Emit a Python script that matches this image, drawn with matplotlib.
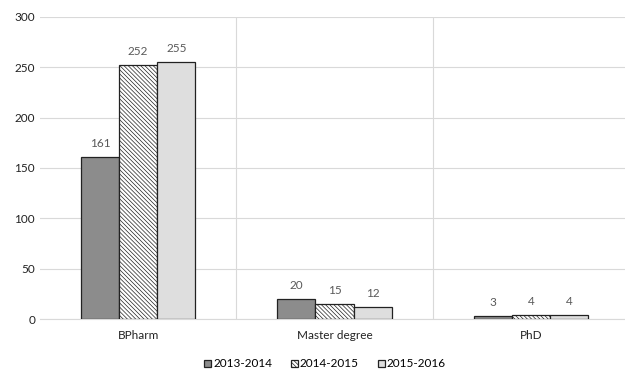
import numpy as np
import matplotlib
matplotlib.use("Agg")
from matplotlib import pyplot as plt

categories = ["BPharm", "Master degree", "PhD"]
years = ["2013-2014", "2014-2015", "2015-2016"]
v2013 = [161, 20, 3]
v2014 = [252, 15, 4]
v2015 = [255, 12, 4]

plt.rcParams['font.family'] = ['Lato', 'DejaVu Sans']
plt.rcParams['hatch.linewidth'] = 0.5
plt.rcParams['hatch.color'] = '#555555'

fig = plt.figure(figsize=(6.25, 3.69), dpi=100)
ax = fig.add_axes([0.064, 0.1355, 0.9424, 0.8185])

x = np.arange(len(categories))
w = 0.194
styles = [dict(color='#8c8c8c', hatch=None),
          dict(color='white', hatch='\\\\\\\\\\\\\\\\'),
          dict(color='#dedede', hatch=None)]
handles = []
for i, (vals, st) in enumerate(zip([v2013, v2014, v2015], styles)):
    bars = ax.bar(x + (i - 1) * w, vals, w, facecolor=st['color'], hatch=st['hatch'],
                  edgecolor='#222222', linewidth=0.9, zorder=3, label=years[i])
    handles.append(bars)
    for b, v in zip(bars, vals):
        ax.text(b.get_x() + b.get_width() / 2, v + 8, str(v), ha='center', va='bottom',
                fontsize=8.5, color='#595959')

ax.set_xlim(-0.5, 2.5)
ax.set_ylim(0, 300)
ax.set_yticks(range(0, 301, 50))
ax.set_xticks(x)
ax.set_xticklabels(categories)
ax.set_xticks([0.5, 1.5], minor=True)
ax.grid(axis='y', color='#d9d9d9', linewidth=0.8, zorder=0)
ax.grid(axis='x', which='minor', color='#d9d9d9', linewidth=0.8, zorder=0)
ax.tick_params(axis='both', which='both', length=0, labelsize=8.5, colors='#222222')
ax.tick_params(axis='x', pad=8)
for s in ['left', 'right', 'top']:
    ax.spines[s].set_visible(False)
ax.spines['bottom'].set_color('#d9d9d9')

fig.legend(handles=handles, loc='lower center', bbox_to_anchor=(0.52, -0.03), ncol=3,
           frameon=False, fontsize=8.5, handlelength=0.6, handleheight=0.6,
           handletextpad=0.15, columnspacing=1.6)

fig.savefig('out.png', dpi=100)
